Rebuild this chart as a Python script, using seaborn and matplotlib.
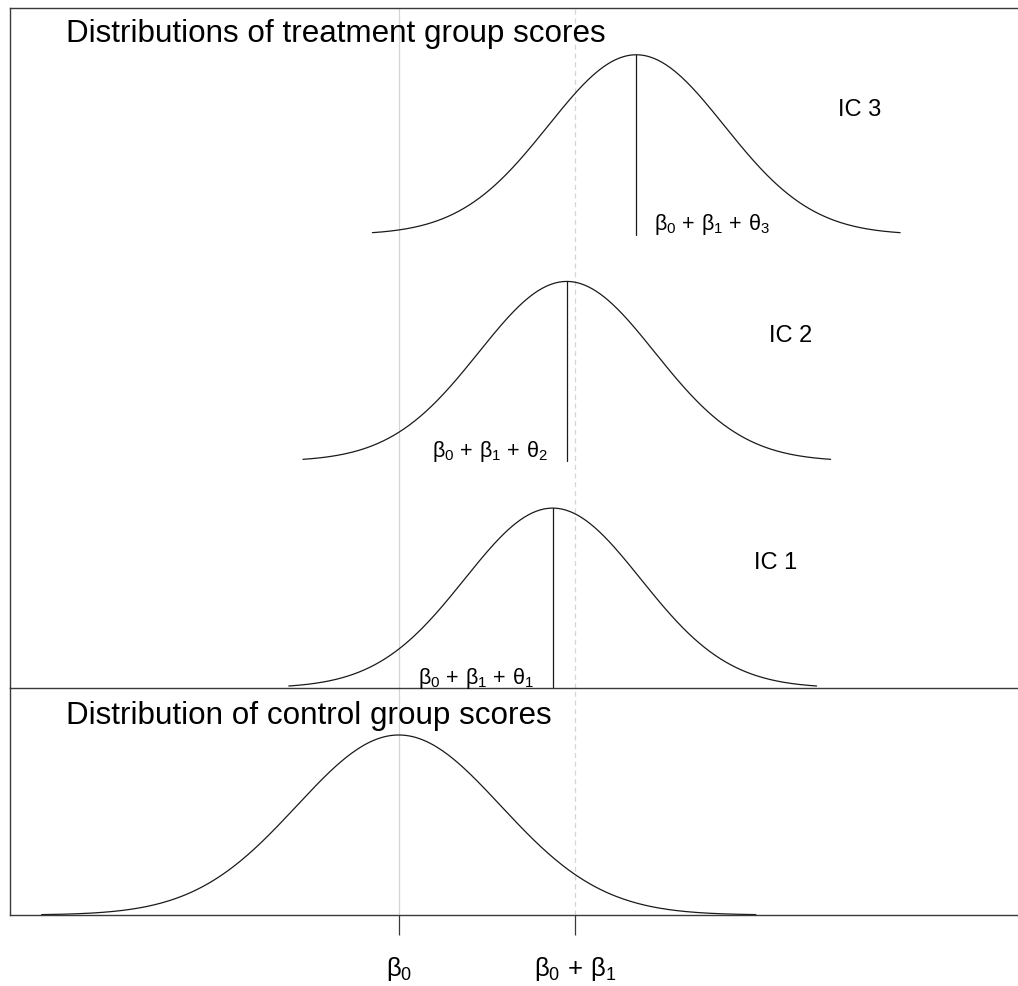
import numpy as np
import pandas as pd
import matplotlib
matplotlib.use("Agg")
import matplotlib.pyplot as plt
import seaborn as sns

sns.set_theme(style="white")
plt.rcParams["font.family"] = ["Liberation Sans", "DejaVu Sans"]
plt.rcParams["mathtext.fontset"] = "custom"
plt.rcParams["mathtext.rm"] = "Liberation Sans"
plt.rcParams["mathtext.it"] = "Liberation Sans"
plt.rcParams["mathtext.bf"] = "Liberation Sans:bold"

# Model parameters (score scale: beta0 = 0, beta1 = 1)
beta0 = 0.0
beta1 = 1.0
groups = ["IC 1", "IC 2", "IC 3"]
theta = [-0.125, -0.045, 0.35]
treat_sd = 0.5
control_sd = 0.58
stack_offsets = [0.0, 1.26, 2.52]
mean_labels = [r"$\beta_0\,+\,\beta_1\,+\,\theta_1$",
               r"$\beta_0\,+\,\beta_1\,+\,\theta_2$",
               r"$\beta_0\,+\,\beta_1\,+\,\theta_3$"]
tick_labels = [r"$\beta_0$", r"$\beta_0\,+\,\beta_1$"]


def bell(mean, sd, half_range):
    x = np.linspace(mean - half_range * sd, mean + half_range * sd, 400)
    return x, np.exp(-0.5 * ((x - mean) / sd) ** 2)


W, H = 1018, 987
fig = plt.figure(figsize=(W / 100, H / 100), dpi=100)
left = 10 / W
ax_c = fig.add_axes([left, (H - 916) / H, 1 - left, 227 / H])
ax_t = fig.add_axes([left, (H - 689) / H, 1 - left, 680 / H])
for ax in (ax_t, ax_c):
    ax.patch.set_visible(False)

xlim = (-2.21, 3.52)
line_kw = dict(color="#1a1a1a", linewidth=0.9)

# Treatment groups, stacked
rows = []
for g, th, off in zip(groups, theta, stack_offsets):
    m = beta0 + beta1 + th
    x, y = bell(m, treat_sd, 3.0)
    rows.append(pd.DataFrame({"x": x, "y": y + off, "group": g}))
treat_df = pd.concat(rows, ignore_index=True)
sns.lineplot(data=treat_df, x="x", y="y", units="group", estimator=None,
             sort=False, ax=ax_t, **line_kw)

for g, th, off, lab, ha in zip(groups, theta, stack_offsets, mean_labels,
                               ["right", "right", "left"]):
    m = beta0 + beta1 + th
    ax_t.plot([m, m], [off, off + 1.0], **line_kw)
    dx = 0.1 if ha == "left" else -0.11
    ax_t.text(m + dx, off + 0.06, lab, ha=ha, va="center", fontsize=15.5,
              color="black")
    ax_t.text(m + 1.27, off + 0.7, g, ha="center", va="center", fontsize=17,
              color="black")

ax_t.text(-1.89, 3.64, "Distributions of treatment group scores",
          ha="left", va="center", fontsize=22.6, color="black")

# Control group
xc, yc = bell(beta0, control_sd, 3.5)
control_df = pd.DataFrame({"x": xc, "y": yc})
sns.lineplot(data=control_df, x="x", y="y", ax=ax_c, **line_kw)
ax_c.text(-1.89, 1.112, "Distribution of control group scores",
          ha="left", va="center", fontsize=22.6, color="black")

# Reference lines at beta0 and beta0 + beta1
for ax in (ax_t, ax_c):
    ax.axvline(beta0, color="#d4d4d4", linewidth=0.9, zorder=0)
    ax.axvline(beta0 + beta1, color="#d4d4d4", linewidth=0.9,
               linestyle=(0, (4, 3)), zorder=0)
    ax.set_xlim(*xlim)
    ax.set_xlabel("")
    ax.set_ylabel("")
    ax.set_yticks([])
    for side in ("left", "bottom", "top"):
        ax.spines[side].set_color("#3a3a3a")
        ax.spines[side].set_linewidth(1.0)
    ax.spines["right"].set_visible(False)

ax_t.set_ylim(0, 3.78)
ax_t.set_xticks([])
ax_c.set_ylim(0, 1.261)
ax_c.spines["top"].set_visible(False)
ax_c.set_xticks([beta0, beta0 + beta1])
ax_c.set_xticklabels(tick_labels, fontsize=18.5)
ax_c.tick_params(axis="x", bottom=True, length=14.4, width=0.9,
                 color="#3a3a3a", pad=14, labelcolor="black")

fig.savefig("out.png", dpi=100, facecolor="white")
